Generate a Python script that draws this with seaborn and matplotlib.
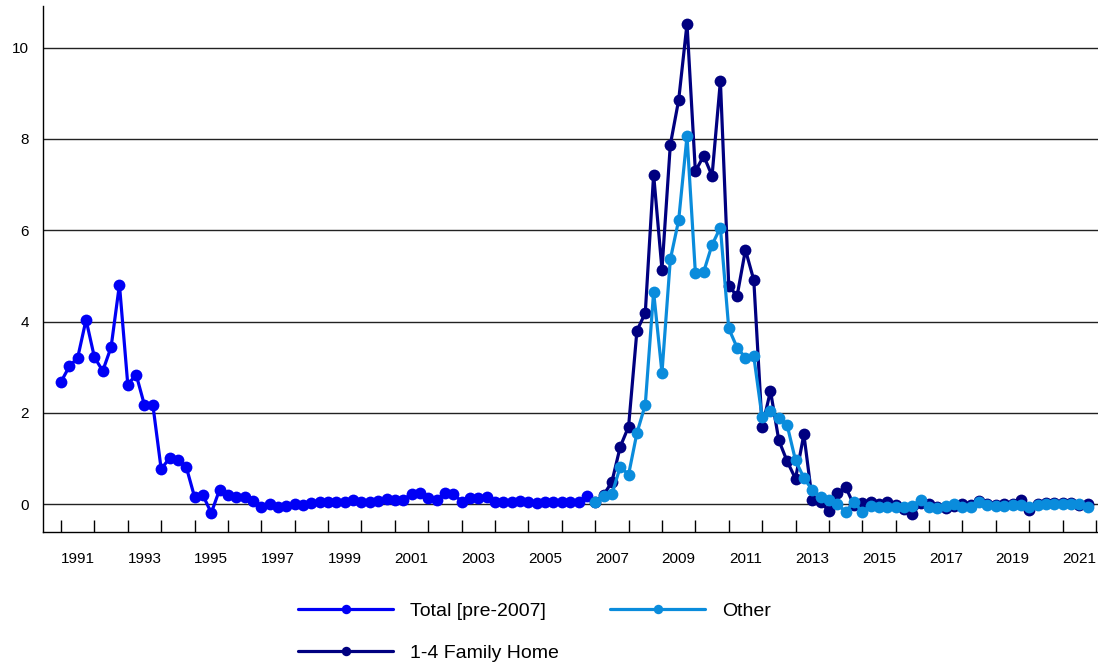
import numpy as np
import pandas as pd
import matplotlib
matplotlib.use("Agg")
import matplotlib.pyplot as plt
import seaborn as sns

# ─── DATA ───────────────────────────────────────────────────────────────────
START_YEAR = 1991

total_vals = [
    2.68, 3.02, 3.21, 4.04, 3.22, 2.92, 3.44, 4.81,
    2.62, 2.84, 2.17, 2.18, 0.77, 1.01, 0.96, 0.82,
    0.16, 0.20, -0.19, 0.32, 0.20, 0.17, 0.17, 0.07,
    -0.06, 0.00, -0.05, -0.04, 0.01, -0.02, 0.03, 0.06,
    0.06, 0.06, 0.06, 0.09, 0.05, 0.05, 0.08, 0.11,
    0.10, 0.10, 0.23, 0.25, 0.13, 0.10, 0.24, 0.23,
    0.06, 0.13, 0.13, 0.16, 0.06, 0.05, 0.05, 0.07,
    0.05, 0.02, 0.04, 0.04, 0.04, 0.04, 0.06, 0.18,
]

family_vals = [
    0.05, 0.20, 0.49, 1.26, 1.70, 3.80, 4.19, 7.22,
    5.14, 7.87, 8.85, 10.52, 7.29, 7.63, 7.19, 9.27,
    4.78, 4.56, 5.57, 4.91, 1.69, 2.48, 1.40, 0.94,
    0.56, 1.53, 0.10, 0.04, -0.14, 0.24, 0.38, -0.02,
    0.02, 0.04, 0.00, 0.05, -0.02, -0.10, -0.22, 0.02,
    0.00, -0.06, -0.08, -0.03, 0.00, -0.02, 0.07, 0.00,
    -0.02, 0.00, 0.00, 0.10, -0.12, 0.00, 0.02, 0.03,
    0.03, 0.02, -0.02, 0.00,
]

other_vals = [
    0.05, 0.18, 0.22, 0.82, 0.65, 1.56, 2.18, 4.65,
    2.88, 5.36, 6.22, 8.06, 5.07, 5.09, 5.68, 6.06,
    3.85, 3.43, 3.21, 3.24, 1.90, 2.04, 1.88, 1.73,
    0.96, 0.58, 0.31, 0.17, 0.09, 0.00, -0.16, 0.04,
    -0.16, -0.03, -0.06, -0.07, -0.07, -0.07, -0.03, 0.10,
    -0.06, -0.08, -0.04, 0.00, -0.07, -0.05, 0.04, -0.02,
    -0.04, -0.03, -0.02, -0.01, -0.06, -0.02, 0.00, 0.00,
    0.00, 0.00, 0.00, -0.05,
]

series_names = ["Total [pre-2007]", "1-4 Family Home", "Other"]
series_colors = ["#0000F5", "#000080", "#0A8CDC"]
year_labels = [str(y) for y in range(1991, 2022, 2)]


def quarter_axis(start_idx, n):
    return [START_YEAR + (start_idx + i) / 4 for i in range(n)]


df = pd.concat([
    pd.DataFrame({"t": quarter_axis(0, len(total_vals)), "value": total_vals,
                  "series": series_names[0]}),
    pd.DataFrame({"t": quarter_axis(64, len(family_vals)), "value": family_vals,
                  "series": series_names[1]}),
    pd.DataFrame({"t": quarter_axis(64, len(other_vals)), "value": other_vals,
                  "series": series_names[2]}),
], ignore_index=True)

# ─── PLOT ───────────────────────────────────────────────────────────────────
sns.set_style("white")
plt.rcParams["font.family"] = ["Liberation Sans", "DejaVu Sans"]

fig = plt.figure(figsize=(10.98, 6.66), dpi=100)
ax = fig.add_axes([0.0389, 0.2008, 0.9611, 0.7902])

for name, color in zip(series_names, series_colors):
    sub = df[df["series"] == name]
    sns.lineplot(data=sub, x="t", y="value", ax=ax, color=color, label=name,
                 marker="o", markersize=8.5, markeredgewidth=0,
                 linewidth=2.3, estimator=None, sort=False, zorder=3)

ax.set_xlim(1990.452, 2022.06)
ax.set_ylim(-0.613, 10.91)

ax.set_yticks(range(0, 11, 2))
ax.yaxis.grid(True, color="#222222", linewidth=1.0)
ax.xaxis.grid(False)
ax.set_axisbelow(True)

ax.set_xticks(range(1991, 2023))
ax.set_xticklabels([])
ax.set_xticks([int(y) + 0.5 for y in year_labels], minor=True)
ax.set_xticklabels(year_labels, minor=True)
ax.tick_params(axis="x", which="major", direction="in", length=8.5,
               width=1.0, color="black", bottom=True)
ax.tick_params(axis="x", which="minor", length=0, pad=14, labelsize=11,
               labelcolor="black")
ax.tick_params(axis="y", length=0, pad=10, labelsize=11, labelcolor="black")

for side in ["top", "right"]:
    ax.spines[side].set_visible(False)
for side in ["left", "bottom"]:
    ax.spines[side].set_color("black")
    ax.spines[side].set_linewidth(1.0)

ax.set_xlabel("")
ax.set_ylabel("")

handles, labels = ax.get_legend_handles_labels()
ax.get_legend().remove()
leg = fig.legend(handles, labels, ncol=2, frameon=False, fontsize=14,
                 loc="center", bbox_to_anchor=(0.4868, 0.0512),
                 handlelength=4.9, handletextpad=0.87, columnspacing=2.63,
                 labelspacing=1.26, markerscale=0.8)
for txt in leg.get_texts():
    txt.set_color("black")

plt.savefig("out.png", dpi=100)
plt.close()
